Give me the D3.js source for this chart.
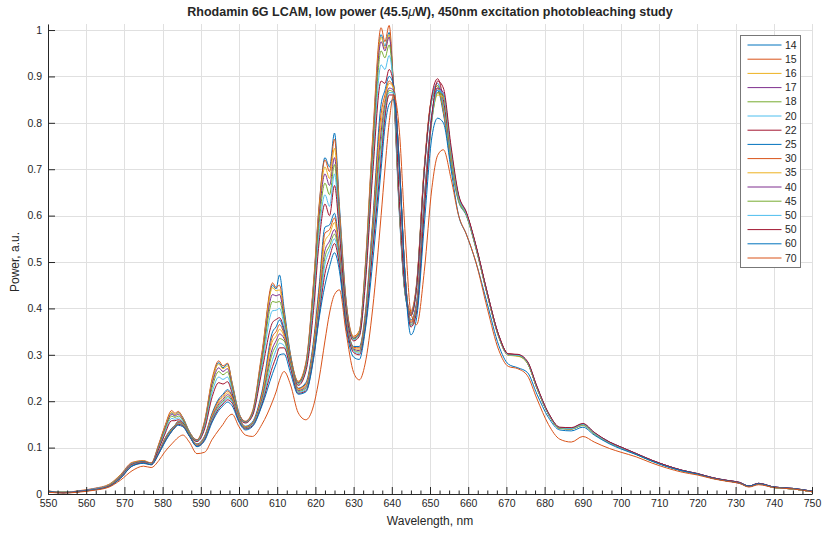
<html>
<head>
<meta charset="utf-8">
<script src="https://d3js.org/d3.v7.min.js"></script>
<style>
  body { margin: 0; background: #fff; }
  text { font-family: "Liberation Sans", Arial, Helvetica, sans-serif; fill: #262626; }
</style>
</head>
<body>
<script>
// wavelength grid (nm), shared by every spectrum
var wavelength = [550, 554, 558, 562, 566, 569, 572, 575, 577,
  579, 580.5, 582.4, 583.2, 584.1, 585.3, 587, 589, 591, 593,
  594.7, 595.8, 597, 598.2, 600, 601.7, 603.5, 606, 608.8, 609.7,
  610.6, 611.8, 613.5, 615.5, 617.5, 619.5, 621, 622.5, 623.7, 625,
  626.3, 628, 630, 631.5, 633, 635, 637.2, 638.2, 639.3, 640.5,
  642, 643.5, 645, 646.5, 648.5, 650.5, 652, 653.5, 655.5,
  657.5, 659.5, 662, 665, 668, 670.5, 673, 675.5, 678, 681, 684, 687, 690, 693, 697, 700,
  704, 708, 712, 716, 720, 724, 728, 731, 733.5, 736, 740, 745, 750];

var s14 = [.006,.004,.006,.011,.020,.040,.066,.071,.066,
  .106,.142,.175,.170,.176,.165,.135,.115,.155,.245,
  .283,.272,.280,.240,.175,.155,.175,.300,.450,.442,
  .472,.400,.300,.240,.280,.450,.620,.725,.705,.778,
  .620,.420,.335,.350,.480,.760,.990,.965,.995,.860,
  .600,.430,.385,.450,.700,.850,.870,.820,.710,
  .630,.600,.530,.430,.340,.300,.298,.282,.228,.172,.142,.140,.148,.130,.110,.100,
  .086,.072,.060,.050,.043,.034,.028,.024,.016,.022,.014,.011,.005];
var s15 = [.007,.003,.007,.012,.021,.042,.068,.072,.067,
  .108,.144,.180,.174,.178,.164,.134,.117,.158,.250,
  .287,.276,.282,.238,.173,.157,.178,.305,.455,.445,
  .450,.390,.298,.243,.283,.455,.625,.720,.695,.765,
  .610,.418,.340,.352,.485,.770,1.005,.975,1.010,.870,
  .610,.435,.395,.455,.705,.855,.875,.825,.715,
  .635,.605,.535,.432,.342,.302,.300,.284,.230,.174,.143,.141,.150,.131,.111,.101,
  .087,.073,.061,.051,.044,.035,.029,.025,.017,.023,.015,.012,.006];
var s16 = [.005,.004,.006,.011,.020,.041,.067,.071,.066,
  .105,.141,.176,.171,.175,.163,.133,.116,.155,.245,
  .280,.270,.276,.236,.172,.156,.176,.298,.445,.438,
  .440,.385,.295,.242,.278,.445,.612,.705,.680,.745,
  .600,.415,.338,.350,.478,.755,.985,.960,.990,.868,
  .608,.432,.392,.452,.702,.855,.880,.830,.718,
  .632,.603,.532,.430,.341,.301,.299,.283,.229,.173,.142,.141,.149,.130,.110,.100,
  .086,.072,.060,.050,.043,.034,.028,.024,.016,.022,.014,.011,.005];
var s17 = [.006,.003,.005,.011,.019,.040,.066,.070,.066,
  .103,.138,.172,.168,.172,.161,.132,.116,.152,.238,
  .272,.264,.270,.232,.170,.156,.174,.292,.430,.427,
  .430,.380,.292,.240,.275,.435,.600,.690,.665,.725,
  .590,.410,.336,.346,.470,.740,.975,.955,.985,.872,
  .612,.432,.390,.450,.700,.855,.885,.835,.722,
  .634,.604,.533,.431,.340,.300,.299,.283,.228,.172,.142,.140,.149,.130,.110,.100,
  .086,.072,.060,.050,.043,.034,.028,.023,.016,.021,.014,.011,.005];
var s18 = [.005,.004,.006,.010,.019,.039,.065,.070,.065,
  .101,.135,.168,.165,.168,.159,.131,.115,.148,.230,
  .264,.257,.263,.228,.168,.155,.172,.285,.415,.413,
  .415,.375,.290,.238,.272,.425,.585,.670,.645,.710,
  .580,.405,.334,.344,.462,.725,.955,.940,.968,.870,
  .615,.430,.388,.448,.698,.850,.880,.835,.722,
  .633,.602,.531,.430,.339,.300,.298,.282,.228,.172,.141,.140,.148,.129,.110,.099,
  .085,.071,.060,.050,.043,.034,.028,.024,.016,.022,.014,.011,.005];
var s20 = [.006,.003,.006,.011,.019,.039,.065,.069,.065,
  .099,.131,.163,.161,.164,.156,.129,.114,.144,.220,
  .252,.247,.252,.222,.166,.154,.170,.275,.395,.396,
  .400,.365,.288,.236,.268,.410,.565,.645,.620,.690,
  .570,.400,.332,.342,.452,.705,.925,.915,.945,.872,
  .620,.432,.386,.446,.695,.852,.885,.840,.726,
  .636,.604,.533,.432,.341,.301,.299,.283,.229,.173,.142,.141,.149,.130,.110,.100,
  .086,.072,.060,.050,.043,.034,.028,.024,.016,.022,.014,.011,.005];
var s22 = [.005,.004,.005,.010,.018,.038,.064,.069,.065,
  .097,.127,.158,.158,.160,.154,.128,.113,.140,.210,
  .240,.237,.242,.217,.164,.153,.168,.265,.370,.376,
  .380,.355,.285,.234,.264,.395,.545,.625,.600,.665,
  .560,.398,.330,.340,.445,.690,.890,.885,.915,.880,
  .630,.438,.385,.445,.695,.860,.895,.850,.732,
  .640,.606,.535,.433,.342,.302,.300,.284,.230,.173,.143,.141,.150,.131,.111,.100,
  .086,.072,.061,.051,.043,.035,.028,.024,.017,.022,.015,.011,.005];
var s25 = [.005,.003,.006,.010,.018,.037,.063,.069,.065,
  .090,.118,.142,.148,.157,.153,.128,.108,.125,.175,
  .205,.215,.225,.212,.165,.146,.155,.220,.350,.360,
  .375,.350,.290,.228,.240,.330,.450,.575,.580,.605,
  .525,.385,.318,.318,.385,.590,.840,.870,.900,.880,
  .700,.470,.375,.415,.640,.820,.870,.860,.735,
  .642,.605,.534,.432,.340,.300,.299,.284,.230,.174,.143,.142,.151,.132,.112,.101,
  .087,.073,.061,.051,.044,.035,.029,.025,.017,.023,.015,.012,.006];
var s30 = [.006,.003,.005,.010,.018,.037,.063,.068,.065,
  .090,.117,.140,.147,.156,.152,.127,.107,.124,.172,
  .202,.212,.222,.210,.164,.145,.153,.215,.340,.350,
  .365,.345,.287,.227,.237,.322,.440,.562,.570,.595,
  .520,.382,.316,.315,.380,.580,.820,.860,.890,.875,
  .700,.470,.372,.410,.632,.812,.865,.858,.735,
  .640,.604,.533,.431,.339,.299,.298,.283,.229,.173,.142,.141,.150,.131,.111,.100,
  .086,.072,.060,.050,.043,.034,.028,.024,.016,.022,.014,.011,.005];
var s35 = [.005,.004,.005,.010,.018,.036,.062,.068,.064,
  .089,.116,.139,.146,.155,.151,.127,.106,.122,.169,
  .198,.208,.218,.207,.162,.144,.152,.210,.330,.340,
  .355,.340,.284,.225,.234,.315,.425,.545,.560,.585,
  .515,.380,.314,.312,.375,.570,.800,.850,.885,.875,
  .702,.468,.370,.405,.625,.808,.860,.855,.732,
  .638,.602,.532,.430,.338,.299,.297,.282,.228,.172,.142,.140,.149,.130,.110,.100,
  .086,.072,.060,.050,.043,.034,.028,.024,.016,.022,.014,.011,.005];
var s40 = [.005,.003,.006,.010,.017,.036,.062,.068,.064,
  .089,.115,.138,.145,.154,.150,.126,.105,.121,.166,
  .194,.204,.214,.204,.161,.143,.151,.205,.315,.330,
  .345,.335,.281,.223,.231,.308,.412,.525,.545,.570,
  .510,.378,.312,.309,.370,.560,.780,.840,.875,.870,
  .705,.468,.368,.402,.622,.815,.875,.865,.740,
  .642,.606,.535,.433,.341,.301,.300,.285,.231,.174,.143,.142,.151,.132,.112,.101,
  .087,.073,.061,.051,.044,.035,.029,.025,.017,.023,.015,.012,.006];
var s45 = [.006,.003,.005,.009,.017,.035,.061,.067,.064,
  .088,.114,.137,.144,.152,.149,.126,.104,.120,.163,
  .190,.200,.210,.201,.160,.142,.150,.200,.305,.320,
  .335,.330,.278,.221,.228,.302,.400,.510,.535,.560,
  .505,.375,.310,.306,.365,.550,.760,.830,.870,.865,
  .705,.466,.365,.398,.615,.805,.865,.858,.738,
  .638,.603,.533,.431,.339,.300,.298,.283,.229,.173,.142,.141,.150,.131,.111,.100,
  .086,.072,.060,.050,.043,.034,.028,.024,.016,.022,.014,.011,.005];
var s50a = [.005,.004,.005,.010,.017,.035,.061,.067,.064,
  .088,.113,.136,.143,.151,.148,.125,.104,.119,.161,
  .187,.197,.207,.199,.159,.141,.149,.197,.290,.310,
  .325,.320,.274,.219,.225,.298,.392,.495,.525,.550,
  .500,.372,.308,.303,.360,.540,.740,.820,.865,.865,
  .708,.466,.362,.395,.612,.808,.870,.862,.742,
  .640,.604,.534,.432,.340,.300,.299,.284,.230,.173,.143,.141,.150,.131,.111,.100,
  .086,.072,.060,.050,.043,.034,.028,.024,.016,.022,.014,.011,.005];
var s50b = [.005,.003,.005,.009,.017,.034,.060,.067,.063,
  .087,.112,.135,.143,.150,.147,.125,.103,.117,.158,
  .184,.194,.203,.196,.157,.140,.147,.193,.275,.295,
  .315,.315,.270,.217,.222,.294,.385,.475,.510,.540,
  .492,.368,.305,.300,.355,.525,.720,.810,.860,.860,
  .710,.466,.360,.392,.610,.815,.890,.875,.750,
  .645,.608,.537,.434,.342,.302,.301,.286,.232,.175,.144,.143,.152,.133,.112,.101,
  .087,.073,.061,.051,.044,.035,.029,.025,.017,.023,.015,.012,.006];
var s60 = [.006,.002,.005,.009,.016,.034,.060,.066,.063,
  .087,.110,.135,.143,.148,.145,.125,.102,.115,.155,
  .180,.190,.198,.190,.155,.138,.145,.190,.260,.280,
  .300,.302,.260,.215,.220,.290,.380,.450,.490,.520,
  .480,.360,.295,.290,.350,.500,.700,.790,.840,.850,
  .700,.460,.343,.380,.580,.770,.810,.800,.700,
  .600,.560,.500,.410,.320,.280,.272,.262,.215,.165,.138,.136,.144,.127,.108,.097,
  .085,.071,.059,.050,.043,.034,.028,.024,.017,.022,.015,.012,.006];
var s70 = [.004,.002,.004,.008,.015,.030,.050,.060,.057,
  .072,.090,.108,.115,.122,.127,.112,.087,.090,.118,
  .138,.150,.165,.172,.145,.127,.124,.150,.200,.220,
  .245,.264,.235,.175,.160,.190,.250,.330,.390,.430,
  .440,.350,.262,.246,.280,.400,.600,.700,.800,.860,
  .780,.560,.390,.365,.480,.660,.730,.742,.680,
  .600,.560,.500,.400,.310,.275,.270,.255,.205,.150,.118,.112,.124,.112,.098,.090,
  .080,.067,.056,.047,.041,.033,.027,.023,.015,.020,.014,.011,.005];

var labels = ["14", "15", "16", "17", "18", "20", "22", "25", "30", "35", "40", "45", "50", "50", "60", "70"];
var spectra = [s14, s15, s16, s17, s18, s20, s22, s25, s30, s35, s40, s45, s50a, s50b, s60, s70];
var colors = ["#0072BD", "#D95319", "#EDB120", "#7E2F8E", "#77AC30", "#4DBEEE", "#A2142F",
  "#0072BD", "#D95319", "#EDB120", "#7E2F8E", "#77AC30", "#4DBEEE", "#A2142F", "#0072BD", "#D95319"];

var xTicks = [550, 560, 570, 580, 590, 600, 610, 620, 630, 640, 650, 660, 670, 680, 690, 700, 710, 720, 730, 740, 750];
var yTicks = [0, 0.1, 0.2, 0.3, 0.4, 0.5, 0.6, 0.7, 0.8, 0.9, 1];
var yTickLabels = ["0", "0.1", "0.2", "0.3", "0.4", "0.5", "0.6", "0.7", "0.8", "0.9", "1"];

var width = 822, height = 533;
var margin = {top: 24, right: 10, bottom: 39, left: 48};
var plotW = width - margin.left - margin.right;
var plotH = height - margin.top - margin.bottom;

var svg = d3.select("body").append("svg")
    .attr("width", width)
    .attr("height", height);

var x = d3.scaleLinear().domain([550, 750]).range([margin.left, margin.left + plotW]);
var y = d3.scaleLinear().domain([0, 1.013]).range([margin.top + plotH, margin.top]);

// grid
var grid = svg.append("g").attr("stroke", "#e0e0e0").attr("stroke-width", 1);
grid.selectAll(".gx").data(xTicks).enter().append("line")
    .attr("x1", d => Math.round(x(d)) + 0.5).attr("x2", d => Math.round(x(d)) + 0.5)
    .attr("y1", y.range()[1]).attr("y2", y.range()[0]);
grid.selectAll(".gy").data(yTicks).enter().append("line")
    .attr("y1", d => Math.round(y(d)) + 0.5).attr("y2", d => Math.round(y(d)) + 0.5)
    .attr("x1", x.range()[0]).attr("x2", x.range()[1]);

// spectra
var line = d3.line()
    .x((d, i) => x(wavelength[i]))
    .y(d => y(d))
    .curve(d3.curveMonotoneX);

svg.append("g").selectAll("path")
    .data(spectra).enter()
    .append("path")
    .attr("d", line)
    .attr("fill", "none")
    .attr("stroke", (d, i) => colors[i])
    .attr("stroke-width", 1);

// axes, MATLAB style ticks pointing inward
var xMinor = [];
xTicks.forEach(function(t) { if (t < 750) xMinor.push(t + 2.5, t + 5, t + 7.5); });

svg.append("g")
    .attr("transform", "translate(0," + (margin.top + plotH) + ")")
    .call(d3.axisBottom(x).tickValues(xMinor).tickSize(-3.5).tickFormat(""))
    .call(g => g.select(".domain").remove())
    .call(g => g.selectAll("line").attr("stroke", "#262626"));

var xAxis = svg.append("g")
    .attr("transform", "translate(0," + (margin.top + plotH) + ")")
    .call(d3.axisBottom(x).tickValues(xTicks).tickSizeInner(-7).tickSizeOuter(0).tickPadding(6))
    .call(g => g.select(".domain").attr("stroke", "#262626"))
    .call(g => g.selectAll("line").attr("stroke", "#262626"));
xAxis.selectAll("text").attr("font-size", 10.5).attr("fill", "#262626")
    .style("font-family", "'Liberation Sans', Arial, sans-serif");

var yAxis = svg.append("g")
    .attr("transform", "translate(" + margin.left + ",0)")
    .call(d3.axisLeft(y).tickValues(yTicks).tickSizeInner(-7).tickSizeOuter(0).tickPadding(6)
        .tickFormat((d, i) => yTickLabels[i]))
    .call(g => g.select(".domain").attr("stroke", "#262626"))
    .call(g => g.selectAll("line").attr("stroke", "#262626"));
yAxis.selectAll("text").attr("font-size", 10.5).attr("fill", "#262626")
    .style("font-family", "'Liberation Sans', Arial, sans-serif");

// labels
svg.append("text")
    .attr("x", x(650)).attr("y", 525)
    .attr("text-anchor", "middle").attr("font-size", 12)
    .text("Wavelength, nm");

svg.append("text")
    .attr("transform", "translate(19," + y(0.5) + ") rotate(-90)")
    .attr("text-anchor", "middle").attr("font-size", 12)
    .text("Power, a.u.");

var title = svg.append("text")
    .attr("x", x(650)).attr("y", 16)
    .attr("text-anchor", "middle").attr("font-size", 12.5).attr("font-weight", "bold");
title.append("tspan").text("Rhodamin 6G LCAM, low power (45.5");
title.append("tspan").attr("font-style", "italic").attr("font-weight", "normal").text("\u03bc");
title.append("tspan").text("W), 450nm excitation photobleaching study");

// legend
var legend = svg.append("g").attr("transform", "translate(740.5,35.5)");
legend.append("rect")
    .attr("width", 60).attr("height", 232)
    .attr("fill", "#fff").attr("stroke", "#777").attr("stroke-width", 1);
var items = legend.selectAll(".item").data(labels).enter().append("g")
    .attr("transform", (d, i) => "translate(0," + (9.5 + i * 14.2) + ")");
items.append("line")
    .attr("x1", 7).attr("x2", 41)
    .attr("stroke", (d, i) => colors[i]).attr("stroke-width", 1);
items.append("text")
    .attr("x", 44.5).attr("dy", "0.35em")
    .attr("font-size", 10.5)
    .text(d => d);
</script>
</body>
</html>
